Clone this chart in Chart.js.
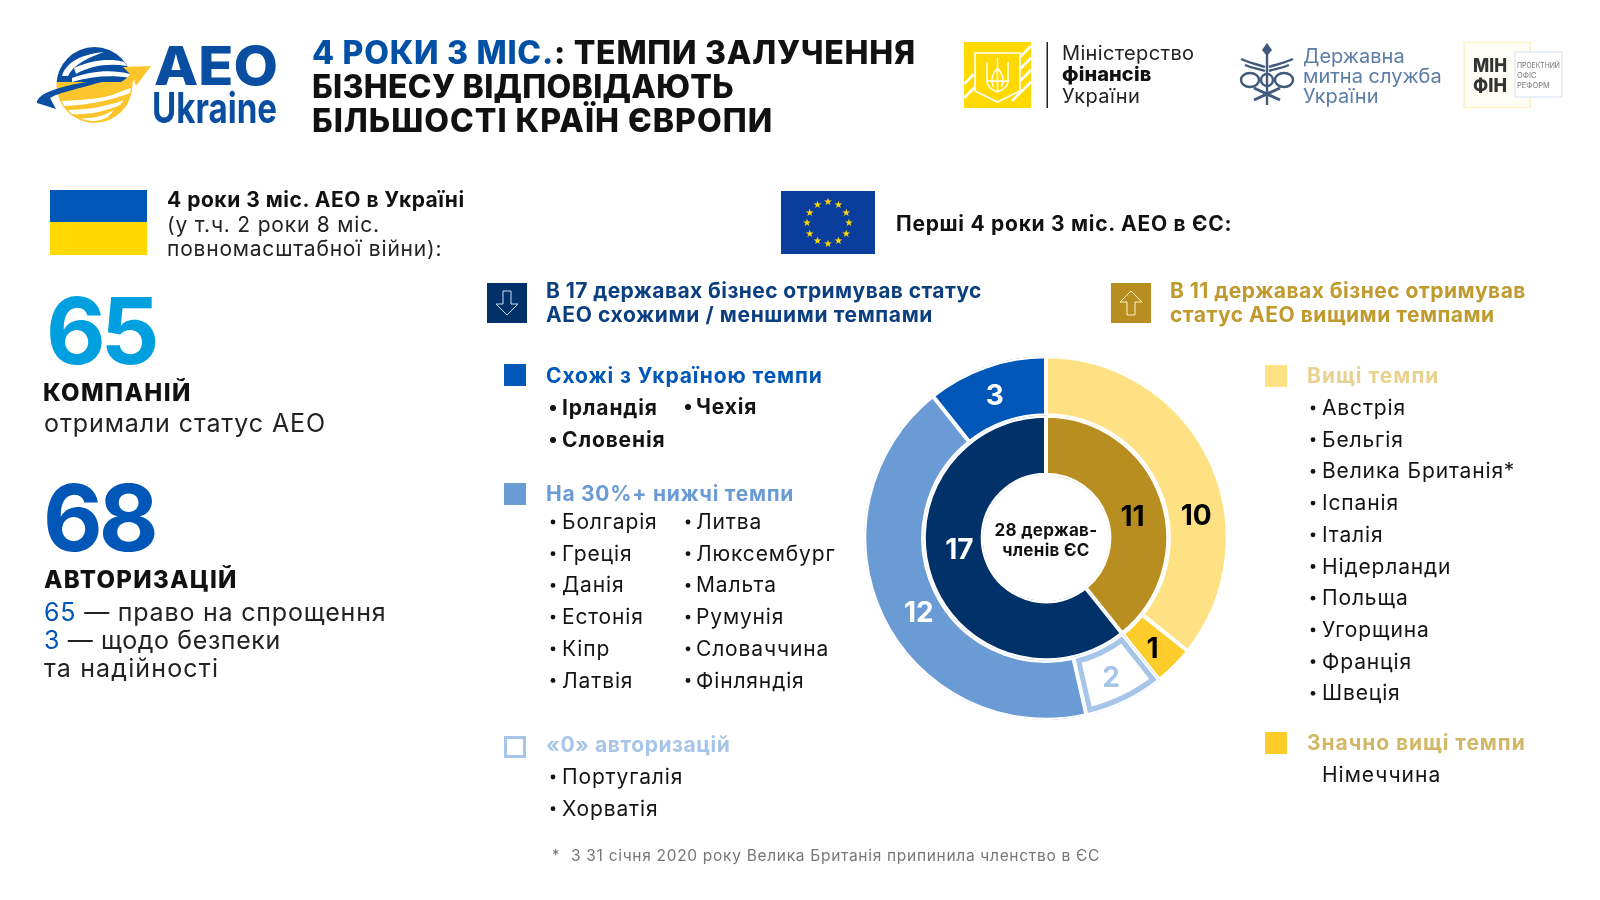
<!DOCTYPE html>
<html lang="uk">
<head>
<meta charset="utf-8">
<title>AEO Ukraine</title>
<script src="https://cdn.jsdelivr.net/npm/chart.js@4"></script>
<style>
  html, body { margin: 0; padding: 0; background: #fff; }
  #pagina { position: relative; width: 1600px; height: 900px; overflow: hidden; background: #fff; }
  #grafico { position: absolute; left: 846px; top: 338px; width: 400px; height: 400px; }
  #camada { position: absolute; left: 0; top: 0; font-family: Inter, "Noto Sans", sans-serif; }
</style>
</head>
<body>
<div id="pagina">
  <canvas id="grafico" width="400" height="400"></canvas>
  <svg id="camada" width="1600" height="900" viewBox="0 0 1600 900"></svg>
</div>
<script>
// dados do gráfico
const rotulosInterno = ["Вищі темпи", "Схожі / менші темпи"];
const valoresInterno = [11, 17];
const rotulosExterno = ["Вищі темпи", "Значно вищі темпи", "«0» авторизацій", "На 30%+ нижчі темпи", "Схожі з Україною темпи"];
const valoresExterno = [10, 1, 2, 12, 3];

const coresInterno = ["#b88e20", "#003168"];
const coresExterno = ["#fde182", "#fccd2a", "#ffffff", "#6a9bd5", "#0057b8"];
const corNumeroInterno = ["#000000", "#ffffff"];
const corNumeroExterno = ["#000000", "#000000", "#a6c5e8", "#ffffff", "#ffffff"];

// deslocamento do número em relação ao centro da fatia
const ajusteInterno = [[-1, 10], [1, -18]];
const ajusteExterno = [[13, 45], [-1, 4], [-1, 3], [10, 10], [-1, 2]];

const paisesSimilares = ["Ірландія", "Словенія"];
const paisesSimilares2 = ["Чехія"];
const paisesNizhchi = ["Болгарія", "Греція", "Данія", "Естонія", "Кіпр", "Латвія"];
const paisesNizhchi2 = ["Литва", "Люксембург", "Мальта", "Румунія", "Словаччина", "Фінляндія"];
const paisesZero = ["Португалія", "Хорватія"];
const paisesVyshchi = ["Австрія", "Бельгія", "Велика Британія*", "Іспанія", "Італія", "Нідерланди", "Польща", "Угорщина", "Франція", "Швеція"];

let svg = "";

function t(x, y, texto, tam, peso, cor, ls, ancora) {
  svg += `<text x="${x}" y="${y}" font-size="${tam}" font-weight="${peso}" fill="${cor}" letter-spacing="${ls || 0}" text-anchor="${ancora || "start"}">${texto}</text>`;
}

function lista(xBullet, xTexto, yInicial, passo, nomes, peso) {
  for (let i = 0; i < nomes.length; i++) {
    const y = yInicial + passo * i;
    svg += `<circle cx="${xBullet}" cy="${y - 7}" r="${peso > 500 ? 3 : 2.4}" fill="#111"/>`;
    t(xTexto, y, nomes[i], 21, peso, "#141414", 0.85);
  }
}

function quadrado(x, y, cor) {
  svg += `<rect x="${x}" y="${y}" width="22" height="22" fill="${cor}"/>`;
}

// cabeçalho: logo AEO
svg += `<clipPath id="cimaGlobo"><rect x="50" y="40" width="90" height="42"/></clipPath>
<clipPath id="baixoGlobo"><rect x="50" y="82" width="90" height="50"/></clipPath>
<circle cx="94.5" cy="85" r="38" fill="#0a4ea2" clip-path="url(#cimaGlobo)"/>
<circle cx="94.5" cy="85" r="38" fill="#fcc52c" clip-path="url(#baixoGlobo)"/>
<path d="M62 76 C66 62 82 54 104 52 C88 58 74 64 68 76 Z" fill="#fff"/>
<path d="M74 68 C92 60 110 58 124 62 L127 66 C108 63 90 66 76 74 Z" fill="#fff"/>
<path d="M72 78 C90 71 112 69 130 74 L131 78 C112 75 92 76 72 82 Z" fill="#fff"/>
<path d="M62 101 C86 100 110 96 131 88 L130 93 C110 101 86 105 64 106 Z" fill="#fff"/>
<path d="M68 110 C88 110 108 106 124 100 L120 105 C104 112 86 115 72 114 Z" fill="#fff"/>
<path d="M80 118 C92 119 104 116 114 110 L108 117 C98 122 90 122 80 118 Z" fill="#fff"/>
<path d="M37 103 C36 93 66 83 112 79 C82 88 60 92 50 98 L56 109 Z" fill="#0a4ea2"/>
<path d="M60 94 C90 92 124 86 130 74 L123 67 L151 66 L136 86 L134 80 C126 96 94 101 60 100 Z" fill="#fcc52c"/>`;
svg += `<text x="154" y="85" font-size="54" font-weight="800" fill="#0a4ea2" textLength="124" lengthAdjust="spacingAndGlyphs">АЕО</text>`;
svg += `<text x="152" y="123" font-size="42" font-weight="700" fill="#0a4ea2" textLength="125" lengthAdjust="spacingAndGlyphs">Ukraine</text>`;

// título
t(312, 64, '<tspan fill="#0050a5">4 РОКИ 3 МІС.</tspan>: ТЕМПИ ЗАЛУЧЕННЯ', 32, 800, "#111", 0.75);
t(312, 98, "БІЗНЕСУ ВІДПОВІДАЮТЬ", 32, 800, "#111", 0.3);
t(312, 132, "БІЛЬШОСТІ КРАЇН ЄВРОПИ", 32, 800, "#111", 1.0);

// Мінфін
svg += `<rect x="964" y="42" width="67" height="66" fill="#ffd900"/>
<path d="M1031 46 L1012 65 M1031 58 L1016 73 M1031 70 L1016 85 M1031 82 L1012 101 M964 98 L976 86 M964 84 L974 74" stroke="#fff" stroke-width="2.5"/>
<path d="M975 53 H1020 V91 L997.5 102 L975 91 Z" fill="#ffd900" stroke="#fff" stroke-width="1.6"/>
<path d="M997.5 58 V92 M987 62 V81 C987 87 992 90 997.5 92 C1003 90 1008 87 1008 81 V62 M997.5 68 C991 75 991 82 993.5 87 M997.5 68 C1004 75 1004 82 1001.5 87 M986 81 H1009" stroke="#fff" stroke-width="1.5" fill="none"/>
<rect x="1046.5" y="42" width="1.5" height="66" fill="#222"/>`;
t(1062, 60, "Міністерство", 20, 400, "#222", 0.35);
t(1062, 81, "фінансів", 20, 800, "#111", 0.1);
t(1062, 103, "України", 20, 400, "#222", 0.4);

// Митна служба
svg += `<g stroke="#3f5a7c" fill="none" stroke-width="2.4">
<path d="M1267 45 V105"/>
<path d="M1241 59 C1252 64 1260 65 1265 67 M1293 59 C1282 64 1274 65 1269 67 M1245 65 C1254 69 1260 69 1265 71 M1289 65 C1280 69 1274 69 1269 71"/>
<ellipse cx="1250" cy="80" rx="9" ry="7"/><ellipse cx="1284" cy="80" rx="9" ry="7"/>
<circle cx="1267" cy="80" r="6"/>
<path d="M1254 100 L1280 88 M1280 100 L1254 88" stroke-width="3"/>
</g><path d="M1267 43 L1262 50 L1267 56 L1272 50 Z" fill="#3f5a7c"/>`;
t(1303, 63, "Державна", 20, 400, "#5b7da6", 0);
t(1303, 83, "митна служба", 20, 400, "#5b7da6", 0);
t(1303, 103, "України", 20, 400, "#5b7da6", 0);

// Мінфін Офіс реформ
svg += `<rect x="1464" y="42.5" width="66" height="65" fill="#fffef6" stroke="#fdf2c4" stroke-width="1.5"/>
<rect x="1515" y="52" width="47" height="45" fill="#fff" stroke="#d4e0ee" stroke-width="1"/>`;
svg += `<text x="1473" y="72" font-size="19" font-weight="800" fill="#333" textLength="34" lengthAdjust="spacingAndGlyphs">МІН</text>`;
svg += `<text x="1473" y="92" font-size="19" font-weight="800" fill="#333" textLength="34" lengthAdjust="spacingAndGlyphs">ФІН</text>`;
svg += `<text x="1517" y="68" font-size="7.5" fill="#777" textLength="43" lengthAdjust="spacingAndGlyphs">ПРОЕКТНИЙ</text>`;
t(1517, 78, "ОФІС", 7.5, 400, "#777");
t(1517, 88, "РЕФОРМ", 7.5, 400, "#777");

// coluna esquerda
svg += `<rect x="50" y="190" width="97" height="33" fill="#0057b8"/><rect x="50" y="222" width="97" height="33" fill="#ffd900"/>`;
t(167, 207, "4 роки 3 міс. АЕО в Україні", 21, 700, "#111", 0.52);
t(167, 232, "(у т.ч. 2 роки 8 міс.", 21, 400, "#222", 0.8);
t(167, 256, "повномасштабної війни):", 21, 400, "#222", 0.8);
t(46, 364, "65", 92, 700, "#00a0e0", -5);
t(43, 401, "КОМПАНІЙ", 24, 800, "#111", 1.4);
t(44, 432, "отримали статус АЕО", 25, 400, "#222", 0.9);
t(43, 551, "68", 92, 700, "#0057b8", -4);
t(44, 588, "АВТОРИЗАЦІЙ", 24, 800, "#111", 1.3);
t(44, 621, '<tspan fill="#0057b8">65</tspan> — право на спрощення', 25, 400, "#222", 0.8);
t(44, 649, '<tspan fill="#0057b8">3</tspan> — щодо безпеки', 25, 400, "#222", 0.6);
t(44, 677, "та надійності", 25, 400, "#222", 1.15);

// União Europeia
svg += `<rect x="781" y="191" width="94" height="63" fill="#0a3d9c"/>`;
for (let i = 0; i < 12; i++) {
  const ang = i * Math.PI / 6;
  const x = 828 + 21 * Math.sin(ang);
  const y = 222.5 - 21 * Math.cos(ang);
  svg += `<text x="${x}" y="${y + 3.5}" font-size="10" fill="#ffd900" text-anchor="middle" font-family="DejaVu Sans">★</text>`;
}
t(896, 231, "Перші 4 роки 3 міс. АЕО в ЄС:", 21, 700, "#111", 0.72);

// faixas de cabeçalho
svg += `<rect x="487" y="283" width="40" height="40" fill="#003168"/>
<path d="M503 291 H511 V304 H518 L507 315 L496 304 H503 Z" fill="none" stroke="#cfe0f2" stroke-width="1"/>`;
t(546, 298, "В 17 державах бізнес отримував статус", 21, 700, "#0b3f80", 0.42);
t(546, 322, "АЕО схожими / меншими темпами", 21, 700, "#0b3f80", 0.62);
svg += `<rect x="1111" y="283" width="40" height="40" fill="#b88e20"/>
<path d="M1127 315 H1135 V302 H1142 L1131 291 L1120 302 H1127 Z" fill="none" stroke="#fff3c9" stroke-width="1"/>`;
t(1170, 298, "В 11 державах бізнес отримував", 21, 700, "#c09a2c", 0.48);
t(1170, 322, "статус АЕО вищими темпами", 21, 700, "#c09a2c", 0.5);

// legenda esquerda
quadrado(504, 364, "#0057b8");
t(546, 383, "Схожі з Україною темпи", 21, 700, "#0057b8", 0.9);
lista(553, 562, 415, 32, paisesSimilares, 700);
lista(688, 696, 414, 32, paisesSimilares2, 700);
quadrado(504, 483, "#6a9bd5");
t(546, 501, "На 30%+ нижчі темпи", 21, 700, "#6a9bd5", 0.72);
lista(553, 562, 529, 31.7, paisesNizhchi, 400);
lista(688, 696, 529, 31.7, paisesNizhchi2, 400);
svg += `<rect x="505.5" y="737.5" width="19" height="19" fill="#fff" stroke="#a6c5e8" stroke-width="3"/>`;
t(546, 752, "«0» авторизацій", 21, 700, "#a6c5e8", 0.55);
lista(553, 562, 784, 31.7, paisesZero, 400);
t(552, 860, "*", 15, 400, "#777");
t(571, 861, "З 31 січня 2020 року Велика Британія припинила членство в ЄС", 15.5, 400, "#777", 0.7);

// legenda direita
quadrado(1265, 365, "#fde182");
t(1307, 383, "Вищі темпи", 21, 700, "#e8d28f", 1.05);
lista(1313, 1322, 415, 31.7, paisesVyshchi, 400);
quadrado(1265, 732, "#fccd2a");
t(1307, 750, "Значно вищі темпи", 21, 700, "#d2b767", 0.95);
t(1322, 782, "Німеччина", 21, 400, "#141414", 1.0);

// centro do anel
t(1046, 536, "28 держав-", 17, 700, "#111", 0.3, "middle");
t(1046, 556, "членів ЄС", 17, 700, "#111", 0.3, "middle");

document.getElementById("camada").innerHTML = svg;

// contorno branco do quadro "2" e números sobre as fatias
const numerosPlugin = {
  id: "numeros",
  afterDatasetsDraw(chart) {
    const ctx = chart.ctx;
    const arco = chart.getDatasetMeta(0).data[2];
    ctx.save();
    ctx.beginPath();
    ctx.arc(arco.x, arco.y, arco.outerRadius, arco.startAngle, arco.endAngle);
    ctx.arc(arco.x, arco.y, arco.innerRadius, arco.endAngle, arco.startAngle, true);
    ctx.closePath();
    ctx.clip();
    ctx.lineWidth = 4;
    ctx.strokeStyle = "#ffffff";
    ctx.stroke();
    ctx.restore();

    const grupos = [
      [0, valoresExterno, corNumeroExterno, ajusteExterno],
      [1, valoresInterno, corNumeroInterno, ajusteInterno]
    ];
    ctx.save();
    ctx.font = "700 28px Inter";
    ctx.textAlign = "center";
    ctx.textBaseline = "middle";
    for (let g = 0; g < grupos.length; g++) {
      const elementos = chart.getDatasetMeta(grupos[g][0]).data;
      for (let i = 0; i < elementos.length; i++) {
        const c = elementos[i].getCenterPoint();
        ctx.fillStyle = grupos[g][2][i];
        ctx.fillText(grupos[g][1][i], c.x + grupos[g][3][i][0], c.y + grupos[g][3][i][1]);
      }
    }
    ctx.restore();
  }
};

new Chart(document.getElementById("grafico"), {
  type: "doughnut",
  data: {
    labels: rotulosExterno,
    datasets: [
      {
        label: "Групи",
        data: valoresExterno,
        backgroundColor: coresExterno,
        borderColor: ["#ffffff", "#ffffff", "#a6c5e8", "#ffffff", "#ffffff"],
        borderWidth: [2, 2, 7, 2, 2],
        borderAlign: "inner"
      },
      {
        label: "Усього",
        data: valoresInterno,
        backgroundColor: coresInterno,
        borderColor: "#ffffff",
        borderWidth: 2,
        borderAlign: "inner"
      }
    ]
  },
  options: {
    responsive: false,
    animation: false,
    cutout: 63,
    layout: { padding: 18 },
    plugins: { legend: { display: false }, tooltip: { enabled: false } }
  },
  plugins: [numerosPlugin]
});
</script>
</body>
</html>
